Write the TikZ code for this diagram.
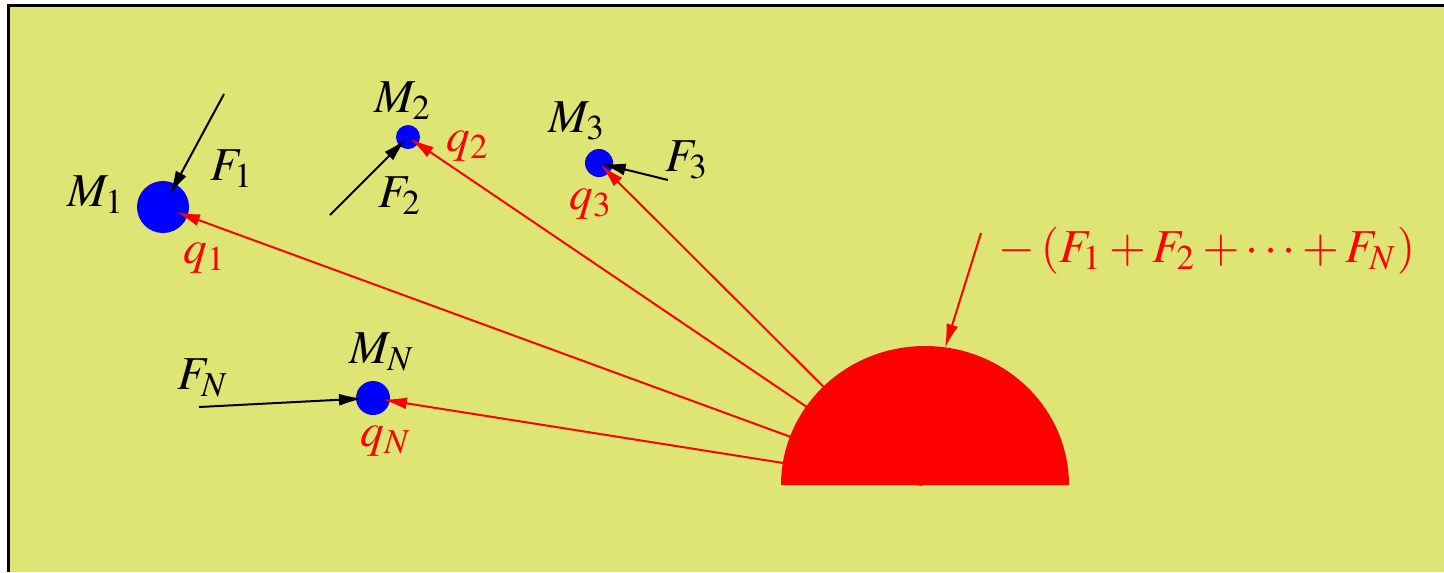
\documentclass[tikz,border=0pt]{standalone}
\usepackage{mathptmx}
\usepackage{tikz}
\usetikzlibrary{arrows.meta,positioning}
\definecolor{paper}{RGB}{223, 229, 116}
\definecolor{massblue}{RGB}{0, 0, 255}
\definecolor{rayred}{RGB}{255, 0, 0}
\tikzset{
  mass/.style={
    circle,
    fill=massblue,
    draw=none,
    inner sep=0pt
  },
  lbl/.style={
    inner sep=0pt,
    font=\fontsize{11.8}{14}\selectfont
  },
  force/.style={
    -{Latex[length=6pt,width=3pt]},
    line width=0.5pt
  },
  ray/.style={
    -{Latex[length=6pt,width=3pt]},
    line width=0.5pt,
    draw=rayred
  }
}

\begin{document}
\begin{tikzpicture}[x=0.25pt,y=-0.25pt]
\useasboundingbox (0,0) rectangle (1444,572);
\fill[paper] (8.5,5.5) rectangle (1444,572);
\draw[line width=0.75pt] (8.5,572) -- (8.5,5.5) -- (1444,5.5);

% masses
\node[mass,minimum size=13pt] (m1) at (163,207) {};
\node[mass,minimum size=6pt] (m2) at (408,137) {};
\node[mass,minimum size=7pt] (m3) at (599,163) {};
\node[mass,minimum size=8.5pt] (mn) at (373,398) {};
\coordinate (o) at (922,485);

% rays from the origin
\draw[ray,shorten >=3.5pt] (o) -- (m1.center);
\draw[ray,shorten >=0.7pt] (o) -- (m2.center);
\draw[ray,shorten >=0.7pt] (o) -- (m3.center);
\draw[ray,shorten >=2.5pt] (o) -- (mn.center);

% the body at the origin
\fill[rayred] (781,485) arc[start angle=180,end angle=360,x radius=144,y radius=139] -- cycle;

% forces
\coordinate (f1) at (224,94);
\coordinate (f2) at (330,215);
\coordinate (f3) at (668,180);
\coordinate (fn) at (199,407);
\draw[force,shorten >=3.5pt] (f1) -- (m1.center);
\draw[force,shorten >=0.7pt] (f2) -- (m2.center);
\draw[force,shorten >=0.7pt] (f3) -- (m3.center);
\draw[force,shorten >=2.5pt] (fn) -- (mn.center);

% reaction
\coordinate (s0) at (981,233);
\coordinate (s1) at (945,348);
\draw[ray] (s0) -- (s1);
\node[lbl,text=rayred] (sum) at (1207,251) {$-\left(F_1+F_2+\cdots+F_N\right)$};

% labels
\node[lbl] (lm1) at (96,195) {$M_1$};
\node[lbl] (lf1) at (232,169) {$F_1$};
\node[lbl,text=rayred] (lq1) at (205,258) {$q_1$};
\node[lbl] (lm2) at (403,101) {$M_2$};
\node[lbl] (lf2) at (400,196) {$F_2$};
\node[lbl,text=rayred] (lq2) at (468,146) {$q_2$};
\node[lbl] (lm3) at (577,121) {$M_3$};
\node[lbl] (lf3) at (687,160) {$F_3$};
\node[lbl,text=rayred] (lq3) at (591,204) {$q_3$};
\node[lbl] (lmn) at (382,352) {$M_N$};
\node[lbl] (lfn) at (203,378) {$F_N$};
\node[lbl,text=rayred] (lqn) at (386,441) {$q_N$};
\end{tikzpicture}
\end{document}
